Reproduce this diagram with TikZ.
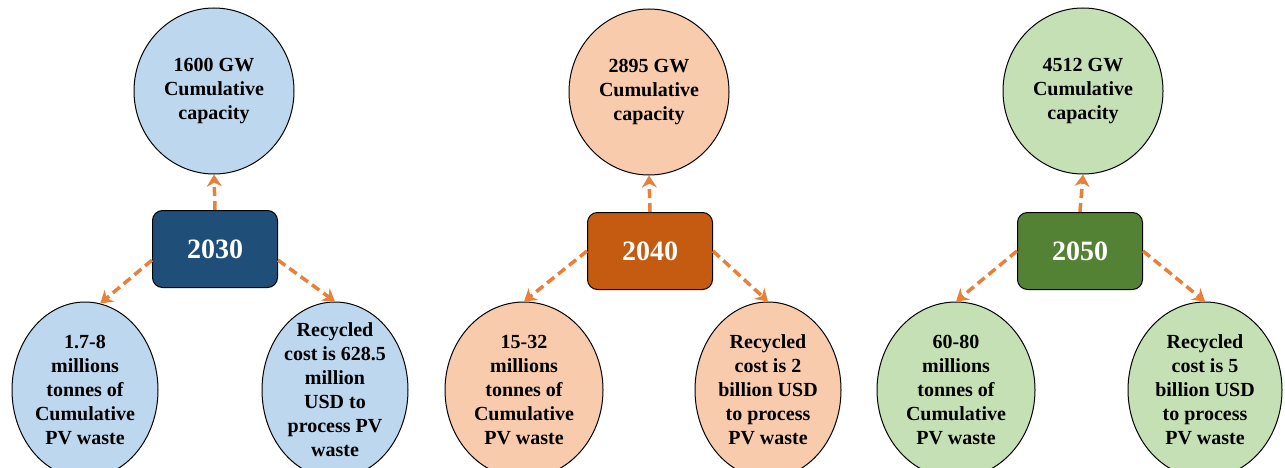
\documentclass[tikz,border=0pt]{standalone}
\usepackage{fontspec}
\setmainfont{Liberation Serif}
\usetikzlibrary{shapes.geometric,arrows.meta}
\definecolor{blueFill}{HTML}{BDD7EE}
\definecolor{blueBox}{HTML}{1F4E79}
\definecolor{orangeFill}{HTML}{F8CBAD}
\definecolor{orangeBox}{HTML}{C55A11}
\definecolor{greenFill}{HTML}{C5E0B4}
\definecolor{greenBox}{HTML}{548235}
\definecolor{linkOrange}{HTML}{E8803A}

\begin{document}
\begin{tikzpicture}[x=1pt,y=-1pt,
    bubble/.style={ellipse, draw=black, line width=1pt, inner sep=-14pt, align=center,
      font=\bfseries\fontsize{20}{24}\selectfont},
    topbubble/.style={bubble, minimum width=160pt, minimum height=166pt},
    lowbubble/.style={bubble, minimum width=146pt, minimum height=176pt},
    yearbox/.style={rectangle, rounded corners=10pt, draw=black, line width=1pt,
      minimum width=125pt, minimum height=77pt, text=white,
      font=\bfseries\fontsize{28}{32}\selectfont},
    link/.style={draw=linkOrange, line width=3.5pt, dash pattern=on 9pt off 5pt,
      -{Stealth[length=12pt,width=15pt]}}]

    \useasboundingbox (0,0) rectangle (1285,468);

    % 2030
    \node[topbubble, fill=blueFill] (c2030) at (214,91) {1600 GW\\Cumulative\\capacity};
    \node[yearbox, fill=blueBox] (y2030) at (215,249) {2030};
    \node[lowbubble, fill=blueFill] (w2030) at (85,390) {1.7-8\\millions\\tonnes of\\Cumulative\\PV waste};
    \node[lowbubble, fill=blueFill] (r2030) at (335,390) {Recycled\\cost is 628.5\\million\\USD to\\process PV\\waste};
    \draw[link] (y2030.north) -- (c2030.south);
    \draw[link] (y2030.190) -- (w2030.80);
    \draw[link] (y2030.350) -- (r2030.north);

    % 2040
    \node[topbubble, fill=orangeFill] (c2040) at (649,92) {2895 GW\\Cumulative\\capacity};
    \node[yearbox, fill=orangeBox] (y2040) at (650,251) {2040};
    \node[lowbubble, fill=orangeFill, minimum width=158pt] (w2040) at (524,390) {15-32\\millions\\tonnes of\\Cumulative\\PV waste};
    \node[lowbubble, fill=orangeFill] (r2040) at (768,390) {Recycled\\cost is 2\\billion USD\\to process\\PV waste};
    \draw[link] (y2040.north) -- (c2040.south);
    \draw[link] (y2040.west) -- (w2040.north);
    \draw[link] (y2040.east) -- (r2040.north);

    % 2050
    \node[topbubble, fill=greenFill] (c2050) at (1083,91) {4512 GW\\Cumulative\\capacity};
    \node[yearbox, fill=greenBox] (y2050) at (1080,251) {2050};
    \node[lowbubble, fill=greenFill, minimum width=158pt] (w2050) at (956,390) {60-80\\millions\\tonnes of\\Cumulative\\PV waste};
    \node[lowbubble, fill=greenFill, minimum width=154pt] (r2050) at (1205,390) {Recycled\\cost is 5\\billion USD\\to process\\PV waste};
    \draw[link] (y2050.north) -- (c2050.south);
    \draw[link] (y2050.west) -- (w2050.north);
    \draw[link] (y2050.east) -- (r2050.north);
\end{tikzpicture}
\end{document}
